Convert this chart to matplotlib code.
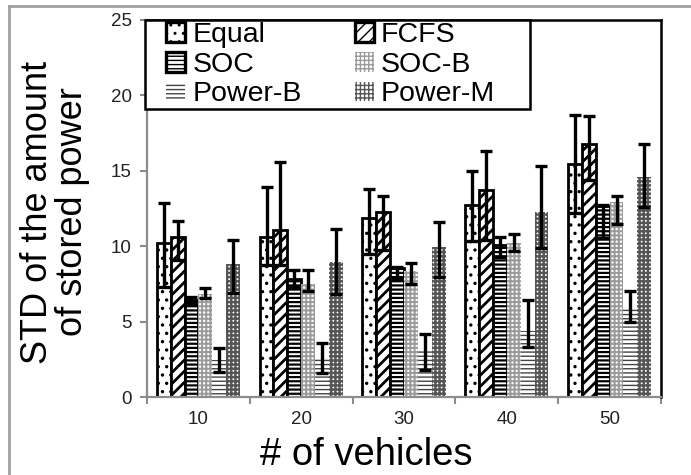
import numpy as np
import matplotlib
matplotlib.use('Agg')
import matplotlib.pyplot as plt
from matplotlib.patches import Patch, Rectangle
from matplotlib.lines import Line2D

plt.rcParams['font.family'] = ['Liberation Sans', 'DejaVu Sans']

# data
vehicles = ['10', '20', '30', '40', '50']
series = ['Equal', 'FCFS', 'SOC', 'SOC-B', 'Power-B', 'Power-M']

equal = [10.2, 10.6, 11.9, 12.7, 15.45]
fcfs = [10.6, 11.1, 12.25, 13.75, 16.8]
soc = [6.45, 7.85, 8.55, 10.1, 12.65]
soc_b = [6.85, 7.5, 8.35, 10.2, 12.9]
power_b = [2.45, 2.5, 3.1, 4.35, 6.0]
power_m = [8.85, 8.95, 9.95, 12.3, 14.6]

# error bars (minus, plus)
equal_err = [[2.9, 1.85, 2.4, 2.35, 3.25], [2.65, 3.3, 1.86, 2.3, 3.25]]
fcfs_err = [[1.5, 2.35, 2.5, 3.35, 2.4], [1.1, 4.5, 1.05, 2.55, 1.85]]
soc_err = [[0.25, 0.55, 0.7, 0.8, 2.1], [0.15, 0.55, 0.1, 0.5, 0.1]]
soc_b_err = [[0.3, 0.5, 0.85, 0.55, 1.45], [0.35, 0.9, 0.55, 0.6, 0.45]]
power_b_err = [[0.8, 0.9, 1.3, 1.05, 1.0], [0.8, 1.1, 1.1, 2.1, 1.0]]
power_m_err = [[1.95, 2.15, 2.0, 2.45, 2.0], [1.55, 2.2, 1.65, 3.05, 2.2]]

values = [equal, fcfs, soc, soc_b, power_b, power_m]
errors = [equal_err, fcfs_err, soc_err, soc_b_err, power_b_err, power_m_err]

# look of each series: hatch, hatch colour, outline width, hatch width
styles = [
    ('..', 'black', 2.0, 1.2),
    ('///', 'black', 2.0, 2.0),
    ('----', 'black', 2.0, 1.6),
    ('++++', '#9a9a9a', 0, 1.4),
    ('----', '#444444', 0, 1.0),
    ('++++', '#555555', 0, 1.7),
]

fig = plt.figure(figsize=(6.91, 4.75), dpi=100)
ax = fig.add_axes([147 / 691, 1 - 397 / 475, 514 / 691, 377 / 475])

x = np.arange(len(vehicles))
width = 0.135

handles = []
for k, (name, vals, err, st) in enumerate(zip(series, values, errors, styles)):
    hatch, hc, lw, hlw = st
    pos = x + (k - 2.5) * width
    bars = ax.bar(pos, vals, width, color='white', edgecolor=hc, linewidth=lw,
                  hatch=hatch, zorder=2)
    for b in bars:
        if hasattr(b, 'set_hatch_linewidth'):
            b.set_hatch_linewidth(hlw)
    ax.errorbar(pos, vals, yerr=err, fmt='none', ecolor='black', elinewidth=2.4,
                capsize=4.2, capthick=2.4, zorder=4)
    p = Patch(facecolor='white', edgecolor=hc, linewidth=lw * 1.2, hatch=hatch, label=name)
    if hasattr(p, 'set_hatch_linewidth'):
        p.set_hatch_linewidth(hlw)
    handles.append(p)

ax.set_ylim(0, 25)
ax.set_xlim(-0.5, 4.5)
ax.set_yticks([0, 5, 10, 15, 20, 25])
ax.set_xticks(np.arange(-0.5, 5, 1))
ax.set_xticklabels([])
ax.set_xticks(x, minor=True)
ax.set_xticklabels(vehicles, minor=True)
ax.tick_params(axis='x', which='minor', length=0, pad=10, labelsize=13.5, labelcolor='#222222')
ax.tick_params(axis='x', which='major', length=5, width=1.5, color='#8c8c8c', direction='out')
ax.tick_params(axis='y', length=5, width=1.5, color='#8c8c8c', pad=6, labelsize=13.5,
               labelcolor='#222222')

ax.spines['left'].set_color('#8c8c8c')
ax.spines['bottom'].set_color('#8c8c8c')
ax.spines['left'].set_linewidth(1.6)
ax.spines['bottom'].set_linewidth(1.6)
ax.spines['top'].set_color('black')
ax.spines['right'].set_color('black')
ax.spines['top'].set_linewidth(1.8)
ax.spines['right'].set_linewidth(1.8)

# legend without its own frame; the box is drawn separately
order = [0, 2, 4, 1, 3, 5]
leg = fig.legend([handles[i] for i in order], [series[i] for i in order], ncol=2,
                 loc='upper left', bbox_to_anchor=(166 / 691, 1 - 22 / 475),
                 borderaxespad=0, fontsize=20.5, frameon=False,
                 handlelength=0.68, handleheight=0.68, handletextpad=0.25,
                 labelspacing=0.13, borderpad=0.0, columnspacing=1.85)
leg.set_zorder(6)
fig.add_artist(Rectangle((145 / 691, 1 - 109 / 475), 385 / 691, 89 / 475,
                         transform=fig.transFigure, facecolor='white',
                         edgecolor='black', lw=1.8, zorder=5))

fig.text(55 / 691, 1 - 212 / 475, 'STD of the amount\nof stored power', rotation=90,
         ha='center', va='center', fontsize=26, linespacing=1.0, multialignment='center')
fig.text(366 / 691, 1 - 455 / 475, '# of vehicles', ha='center', va='center', fontsize=27.5)

# light grey frame around the chart
fig.add_artist(Line2D([9 / 691, 1], [1 - 6 / 475, 1 - 6 / 475], color='#a0a0a0', lw=2))
fig.add_artist(Line2D([9 / 691, 9 / 691], [0, 1 - 6 / 475], color='#a0a0a0', lw=2))

fig.savefig('out.png', dpi=100)
